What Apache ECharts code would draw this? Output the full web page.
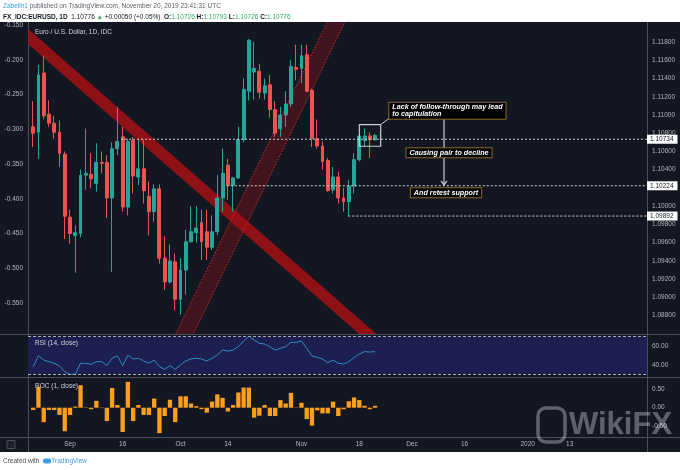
<!DOCTYPE html>
<html><head><meta charset="utf-8">
<script src="https://cdn.jsdelivr.net/npm/echarts@6/dist/echarts.min.js"></script>
<style>html,body{margin:0;padding:0;background:#fff}#c{width:680px;height:470px}</style>
</head><body><div id="c"></div>
<script>
// ---------------- data ----------------
const dates = ['2019-08-22','2019-08-23','2019-08-26','2019-08-27','2019-08-28','2019-08-29','2019-08-30',
'2019-09-02','2019-09-03','2019-09-04','2019-09-05','2019-09-06','2019-09-09','2019-09-10','2019-09-11','2019-09-12','2019-09-13',
'2019-09-16','2019-09-17','2019-09-18','2019-09-19','2019-09-20','2019-09-23','2019-09-24','2019-09-25','2019-09-26','2019-09-27','2019-09-30',
'2019-10-01','2019-10-02','2019-10-03','2019-10-04','2019-10-07','2019-10-08','2019-10-09','2019-10-10','2019-10-11',
'2019-10-14','2019-10-15','2019-10-16','2019-10-17','2019-10-18','2019-10-21','2019-10-22','2019-10-23','2019-10-24','2019-10-25',
'2019-10-28','2019-10-29','2019-10-30','2019-10-31','2019-11-01','2019-11-04','2019-11-05','2019-11-06','2019-11-07','2019-11-08',
'2019-11-11','2019-11-12','2019-11-13','2019-11-14','2019-11-15','2019-11-18','2019-11-19','2019-11-20','2019-11-21'];
const open  = [1.1087,1.1081,1.1146,1.1101,1.1091,1.1081,1.1057,1.0988,1.0968,1.0970,1.1034,1.1035,1.1025,1.1048,1.1048,1.1009,1.1063,
1.1076,1.0999,1.1072,1.1032,1.1041,1.1011,1.0994,1.1019,1.0943,1.0917,1.0939,1.0898,1.0930,1.0961,1.0971,1.0982,1.0972,1.0955,1.0972,1.1009,
1.1045,1.1023,1.1031,1.1073,1.1126,1.1147,1.1148,1.1124,1.1133,1.1106,1.1085,1.1100,1.1112,1.1152,1.1151,1.1166,1.1127,1.1074,1.1066,1.1050,
1.1018,1.1032,1.1009,1.1005,1.1022,1.1051,1.1072,1.1077,1.10726];
const close = [1.1080,1.1144,1.1099,1.1091,1.1081,1.1058,1.0989,1.0970,1.0971,1.1034,1.1036,1.1030,1.1048,1.1047,1.1009,1.1063,1.1071,
1.0999,1.1071,1.1033,1.1041,1.1017,1.0994,1.1019,1.0943,1.0917,1.0940,1.0898,1.0930,1.0961,1.0972,1.0976,1.0961,1.0955,1.0972,1.1009,1.1036,
1.1023,1.1031,1.1073,1.1128,1.1182,1.1151,1.1125,1.1132,1.1106,1.1080,1.1100,1.1112,1.1153,1.1150,1.1165,1.1126,1.1074,1.1066,1.1049,1.1017,
1.1032,1.1009,1.1005,1.1022,1.1051,1.1077,1.1077,1.1073,1.10776];
const low   = [1.1065,1.1052,1.1095,1.1087,1.1074,1.1043,1.0964,1.0959,1.0927,1.0966,1.1018,1.1020,1.1016,1.1036,1.0987,1.0928,1.1056,
1.0994,1.0990,1.1014,1.1023,1.1003,1.0968,1.0983,1.0937,1.0908,1.0915,1.0886,1.0881,1.0903,1.0960,1.0960,1.0941,1.0941,1.0952,1.0968,1.0994,
1.1007,1.0994,1.1030,1.1070,1.1116,1.1117,1.1118,1.1117,1.1097,1.1076,1.1076,1.1087,1.1109,1.1138,1.1135,1.1125,1.1065,1.1063,1.1040,1.1016,
1.1014,1.1003,1.0994,1.0989,1.1014,1.1049,1.1065,1.1053,1.10726];
const high  = [1.1115,1.1155,1.1165,1.1116,1.1099,1.1094,1.1060,1.0996,1.0979,1.1040,1.1085,1.1058,1.1069,1.1060,1.1056,1.1070,1.1109,
1.1087,1.1074,1.1076,1.1073,1.1073,1.1027,1.1024,1.1024,1.0967,1.0958,1.0948,1.0943,1.0974,1.1000,1.1000,1.0996,1.0996,1.0990,1.1034,1.1063,
1.1052,1.1032,1.1087,1.1140,1.1183,1.1180,1.1156,1.1140,1.1144,1.1115,1.1109,1.1126,1.1160,1.1177,1.1177,1.1177,1.1129,1.1095,1.1071,1.1053,
1.1043,1.1038,1.1020,1.1029,1.1058,1.1080,1.1085,1.1081,1.10793];
const rsi = [38.1,49.8,45.2,43.5,41.7,38.8,32.8,30.0,30.0,41.7,41.7,40.6,43.5,43.5,39.2,47.0,49.8,39.2,50.5,46.3,
47.0,44.2,41.7,45.2,38.1,35.3,39.2,35.3,39.9,44.2,46.3,47.0,46.3,44.2,47.0,50.5,55.8,54.7,55.8,59.4,
65.4,70.7,66.5,62.9,62.2,59.4,55.8,57.6,59.4,64.0,64.0,65.4,57.6,49.5,48.1,46.3,42.4,45.2,41.7,41.0,
43.5,47.7,51.6,54.1,53.7,54.1];
const roc = [-0.06,0.55,-0.38,-0.06,-0.06,-0.19,-0.62,-0.19,0.03,0.59,0.01,-0.04,0.18,-0.01,-0.35,0.52,0.07,-0.64,0.68,-0.35,
0.07,-0.19,-0.19,0.24,-0.67,-0.22,0.21,-0.38,0.30,0.30,0.11,0.04,-0.04,-0.13,0.16,0.35,0.26,-0.10,0.07,0.40,
0.53,0.53,-0.26,-0.21,0.07,-0.22,-0.22,0.20,0.11,0.39,-0.01,0.13,-0.30,-0.47,-0.07,-0.15,-0.15,0.16,-0.22,-0.04,
0.17,0.27,0.20,0.05,-0.04,0.05];
const priceTicks = [1.088,1.090,1.092,1.094,1.096,1.098,1.100,1.102,1.104,1.106,1.108,1.110,1.112,1.114,1.116,1.118];
const leftTicks = [-0.55,-0.50,-0.45,-0.40,-0.35,-0.30,-0.25,-0.20,-0.15];
const rsiTicks = [40, 60];
const rocTicks = [-0.5, 0, 0.5];
const xTickIdx = [7, 17, 28, 37, 51, 62, 72, 82, 94, 102];
const xTickLabels = ['Sep','16','Oct','14','Nov','18','Dec','16','2020','13'];
const levels = [1.10734, 1.10224, 1.09892];
const levelStart = [16.7, 36.8, 59.9];
const downTrend = [[-1.0, 1.11862], [64.5, 1.08554]];
const upTrend = [[28.86, 1.08610], [57.57, 1.12019]];
const noteBox = [[62.0, 1.10894], [66.06, 1.10657]];
const noteLink = [[66.06, 1.10894], [67.97, 1.10975]];
const noteArrow = [[78.1, 1.10964], [78.1, 1.10233]];
const noteTexts = ['Lack of follow-through may lead\nto capitulation', 'Causing pair to decline', 'And retest support'];
const noteAt = [[67.7, 1.11135], [79.05, 1.10587], [78.48, 1.10147]];

// ---------------- layout ----------------
const FF = '"Liberation Sans", Arial, sans-serif';
const X_MIN = -0.99, X_MAX = 116.69;
const P_MIN = 1.08599, P_MAX = 1.12019;
const L_MIN = -0.5946, L_MAX = -0.14568;
const R_MIN = 27.13, R_MAX = 72.87;
const C_MIN = -0.771, C_MAX = 0.808;
const LBL = {color:'#b2b5be', fontSize:6.5, fontFamily:FF};
const UP = '#26a69a', DN = '#ef5350';

const chart = echarts.init(document.getElementById('c'), null, {renderer:'canvas', width:680, height:470});

function xAxis(g) {
  const show = g === 2;
  return {type:'value', gridIndex:g, min:X_MIN, max:X_MAX, show:show, position:'bottom',
    axisLine:{show:false, onZero:false}, splitLine:{show:false},
    axisTick:{show:false},
    axisLabel:{show:show, customValues:xTickIdx, margin:4, ...LBL,
      formatter:v => { const k = xTickIdx.findIndex(t => Math.abs(t - v) < 1e-6); return k >= 0 ? xTickLabels[k] : ''; }}};
}
function yAxis(g, pos, min, max, ticks, dec) {
  return {type:'value', gridIndex:g, position:pos, min:min, max:max,
    axisLine:{show:false, onZero:false}, splitLine:{show:false},
    axisTick:{show:false},
    axisLabel:{customValues:ticks, margin:5, ...LBL, formatter:v => v.toFixed(dec)}};
}

function renderBand(params, api) {
  const a = api.coord([api.value(0), api.value(1)]);
  const b = api.coord([api.value(2), api.value(3)]);
  const kind = api.value(4);
  const dx = b[0]-a[0], dy = b[1]-a[1], len = Math.hypot(dx, dy);
  const ux = dx/len, uy = dy/len, ext = 80;
  const A = [a[0]-ux*ext, a[1]-uy*ext], B = [b[0]+ux*ext, b[1]+uy*ext];
  const hw = kind === 0 ? 5.7 : 7.9;
  const nx = -uy*hw, ny = ux*hw;
  const e1 = [[A[0]+nx, A[1]+ny], [B[0]+nx, B[1]+ny]];
  const e2 = [[A[0]-nx, A[1]-ny], [B[0]-nx, B[1]-ny]];
  const ch = [{type:'polygon', shape:{points:[e1[0], e1[1], e2[1], e2[0]]},
    style:{fill: kind === 0 ? 'rgba(168,16,18,0.82)' : 'rgba(168,16,18,0.32)'}}];
  if (kind === 1) {
    [e1, e2].forEach(e => ch.push({type:'polyline', shape:{points:e},
      style:{fill:null, stroke:'rgba(215,45,45,0.9)', lineWidth:1, lineDash:[1.5,1.5]}}));
  }
  return {type:'group', children:ch};
}

function renderLevel(params, api) {
  const p = api.coord([api.value(0), api.value(1)]);
  const right = params.coordSys.x + params.coordSys.width;
  return {type:'group', children:[
    {type:'line', shape:{x1:p[0], y1:p[1], x2:right, y2:p[1]},
      style:{stroke:'#d1d4dc', lineWidth:1, lineDash:[2,2]}},
    {type:'text', x:right, y:p[1], style:{text:api.value(1).toFixed(5), font:'6.5px '+FF, fill:'#131722',
      align:'left', verticalAlign:'middle', backgroundColor:'#ffffff', padding:[1,4,1,3]}}
  ]};
}

function renderNotes(params, api) {
  const ch = [];
  const b0 = api.coord(noteBox[0]), b1 = api.coord(noteBox[1]);
  ch.push({type:'rect', shape:{x:b0[0], y:b0[1], width:b1[0]-b0[0], height:b1[1]-b0[1]},
    style:{fill:'transparent', stroke:'#c9cbd1', lineWidth:1.2}});
  const l0 = api.coord(noteLink[0]), l1 = api.coord(noteLink[1]);
  ch.push({type:'line', shape:{x1:l0[0], y1:l0[1], x2:l1[0], y2:l1[1]}, style:{stroke:'#c9cbd1', lineWidth:1}});
  const a0 = api.coord(noteArrow[0]), a1 = api.coord(noteArrow[1]);
  ch.push({type:'line', shape:{x1:a0[0], y1:a0[1], x2:a1[0], y2:a1[1]}, style:{stroke:'#c9cbd1', lineWidth:1.2}});
  ch.push({type:'polyline', shape:{points:[[a1[0]-3, a1[1]-4], [a1[0], a1[1]], [a1[0]+3, a1[1]-4]]},
    style:{fill:null, stroke:'#c9cbd1', lineWidth:1.2}});
  noteTexts.forEach((t, k) => {
    const p = api.coord(noteAt[k]);
    ch.push({type:'text', x:p[0], y:p[1], style:{text:t, font:'italic bold 7.2px '+FF, fill:'#ffffff',
      align: k === 0 ? 'left' : 'center', verticalAlign: k === 0 ? 'top' : 'middle',
      backgroundColor:'#000000', borderColor:'#8a6a22', borderWidth:1, padding:[1,3,1,3], lineHeight:7}});
  });
  return {type:'group', children:ch};
}

const sep = '#4a4e59';
const tick = '#787b86';
const option = {
  backgroundColor:'#ffffff',
  animation:false,
  textStyle:{fontFamily:FF},
  grid:[
    {left:28, top:22, width:619, height:312, outerBoundsMode:'none'},
    {left:28, top:334, width:619, height:43, outerBoundsMode:'none'},
    {left:28, top:377, width:619, height:60, outerBoundsMode:'none'}
  ],
  xAxis:[xAxis(0), xAxis(1), xAxis(2)],
  yAxis:[
    yAxis(0, 'right', P_MIN, P_MAX, priceTicks, 5),
    yAxis(0, 'left', L_MIN, L_MAX, leftTicks, 3),
    yAxis(1, 'right', R_MIN, R_MAX, rsiTicks, 2),
    yAxis(2, 'right', C_MIN, C_MAX, rocTicks, 2)
  ],
  series:[
    {type:'custom', name:'trend', xAxisIndex:0, yAxisIndex:0, z:1, clip:true, silent:true,
     data:[[...downTrend[0], ...downTrend[1], 0], [...upTrend[0], ...upTrend[1], 1]], renderItem:renderBand},
    {type:'candlestick', name:'EURUSD', xAxisIndex:0, yAxisIndex:0, z:2, barWidth:3.4,
     data:dates.map((d, i) => [i, open[i], close[i], low[i], high[i]]),
     itemStyle:{color:UP, color0:DN, borderColor:UP, borderColor0:DN, borderWidth:1}},
    {type:'custom', name:'levels', xAxisIndex:0, yAxisIndex:0, z:4, clip:false, silent:true,
     data:levels.map((v, k) => [levelStart[k], v]), renderItem:renderLevel},
    {type:'custom', name:'notes', xAxisIndex:0, yAxisIndex:0, z:6, clip:false, silent:true,
     data:[[0, levels[0]]], renderItem:renderNotes},
    {type:'line', name:'RSI', xAxisIndex:1, yAxisIndex:2, z:3, showSymbol:false, symbol:'none',
     data:rsi.map((v, i) => [i, v]), lineStyle:{color:'#2b8cbe', width:1},
     markArea:{silent:true, itemStyle:{color:'#1c1f4f'}, data:[[{yAxis:30}, {yAxis:70}]]},
     markLine:{silent:true, symbol:['none','none'], label:{show:false},
       lineStyle:{color:'#a8abb5', width:1, type:[3,2]}, data:[{yAxis:30}, {yAxis:70}]}},
    {type:'bar', name:'ROC', xAxisIndex:2, yAxisIndex:3, barWidth:4.3,
     data:roc.map((v, i) => [i, v]), itemStyle:{color:'#ff9f1a'}}
  ],
  graphic:[
    {type:'rect', z:-10, silent:true, shape:{x:0, y:22, width:680, height:430}, style:{fill:'#131722'}},
    {type:'line', z:1, shape:{x1:28.5, y1:22, x2:28.5, y2:452}, style:{stroke:sep, lineWidth:1}},
    {type:'line', z:1, shape:{x1:647.5, y1:22, x2:647.5, y2:452}, style:{stroke:sep, lineWidth:1}},
    {type:'line', z:1, shape:{x1:0, y1:334.5, x2:680, y2:334.5}, style:{stroke:sep, lineWidth:1}},
    {type:'line', z:1, shape:{x1:0, y1:377.5, x2:680, y2:377.5}, style:{stroke:sep, lineWidth:1}},
    {type:'line', z:1, shape:{x1:0, y1:437.5, x2:680, y2:437.5}, style:{stroke:sep, lineWidth:1}},
    {type:'rect', z:1, shape:{x:7, y:440.5, width:8, height:8}, style:{fill:'#1e222d', stroke:sep, lineWidth:1}},
    {type:'text', z:10, x:3, y:2.5, style:{font:'6.5px '+FF, text:'{a|Zabelin1}{b| published on TradingView.com, November 20, 2019 23:41:31 UTC}',
      rich:{a:{fill:'#3d9be9', font:'6.5px '+FF}, b:{fill:'#5d606b', font:'6.5px '+FF}}}},
    {type:'text', z:10, x:3, y:13.5, style:{font:'6.5px '+FF,
      text:'{k|FX_IDC:EURUSD, 1D}{n|  1.10776 }{g|▲}{n| +0.00050 (+0.05%)  }{k|O:}{g|1.10726}{k| H:}{g|1.10793}{k| L:}{g|1.10726}{k| C:}{g|1.10776}',
      rich:{k:{fill:'#131722', font:'bold 6.5px '+FF}, n:{fill:'#131722', font:'6.5px '+FF}, g:{fill:'#2eae5f', font:'6.5px '+FF}}}},
    {type:'text', z:10, x:35, y:28.5, style:{text:'Euro / U.S. Dollar, 1D, IDC', font:'6.5px '+FF, fill:'#d1d4dc'}},
    {type:'text', z:10, x:35, y:339.5, style:{text:'RSI (14, close)', font:'6.5px '+FF, fill:'#d1d4dc'}},
    {type:'text', z:10, x:35, y:382.5, style:{text:'ROC (1, close)', font:'6.5px '+FF, fill:'#d1d4dc'}},
    {type:'text', z:10, x:3, y:457.5, style:{font:'6.5px '+FF, text:'{c|Created with }{s| }{t|TradingView}',
      rich:{c:{fill:'#4a4a4a', font:'6.5px '+FF}, s:{width:10}, t:{fill:'#3d9be9', font:'6.5px '+FF}}}},
    {type:'rect', z:10, shape:{x:43, y:458.5, width:8, height:5, r:2}, style:{fill:'#3d9be9'}},
    {type:'rect', z:20, silent:true, shape:{x:538, y:408, width:27, height:34, r:8},
      style:{fill:null, stroke:'rgba(255,255,255,0.32)', lineWidth:3.5}},
    {type:'text', z:20, silent:true, x:569, y:425, style:{text:'WikiFX', font:'bold 31px '+FF,
      fill:'rgba(255,255,255,0.32)', verticalAlign:'middle'}}
  ]
};
chart.setOption(option);
</script>
</body></html>
